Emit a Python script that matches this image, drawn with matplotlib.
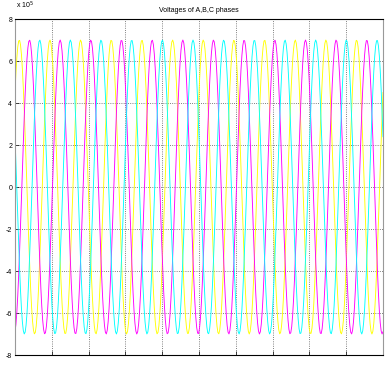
import numpy as np
import matplotlib
matplotlib.use("Agg")
import matplotlib.pyplot as plt

plt.rcParams["font.family"] = ["Liberation Sans", "DejaVu Sans"]

# Phase parameters
phase_names = ["A", "B", "C"]
phase_colors = ["#ffff00", "#ff00ff", "#00ffff"]
amplitude_1e5 = [7.0, 7.0, 7.0]          # peak voltage (x 10^5)
frequency_hz = 60.0
phase_deg = [-50.0, -170.0, -290.0]       # phase angle of each phase
t_end = 0.2
n_samples = 400

yticks = [-8, -6, -4, -2, 0, 2, 4, 6, 8]
xticks = [0.0, 0.02, 0.04, 0.06, 0.08, 0.10, 0.12, 0.14, 0.16, 0.18, 0.20]

t = np.linspace(0, t_end, n_samples)

fig = plt.figure(figsize=(3.89, 3.68), dpi=100)
ax = fig.add_axes([15/389, 1-355/368, (383-15)/389, (355-19)/368])

for amp, ph, col in zip(amplitude_1e5, phase_deg, phase_colors):
    v = amp * np.cos(2*np.pi*frequency_hz*t + np.deg2rad(ph))
    ax.plot(t, v, color=col, lw=0.65)

ax.set_xlim(0, t_end)
ax.set_ylim(-8, 8)
ax.set_yticks(yticks)
ax.set_yticklabels([str(v) for v in yticks], fontsize=5)
ax.set_xticks(xticks)
ax.set_xticklabels([])
ax.tick_params(direction="in", length=3, width=0.5, pad=2)
ax.grid(True, linestyle=":", color="#555555", linewidth=0.6)
for s in ax.spines.values():
    s.set_linewidth(0.8)
ax.spines["left"].set_color("#999999")
ax.spines["right"].set_color("#999999")
ax.set_title("Voltages of A,B,C phases", fontsize=5, pad=5)
fig.text(16/389, 1-11/368, r"x 10$^5$", fontsize=5, va="bottom", ha="left")

fig.savefig("out.png", dpi=100)
